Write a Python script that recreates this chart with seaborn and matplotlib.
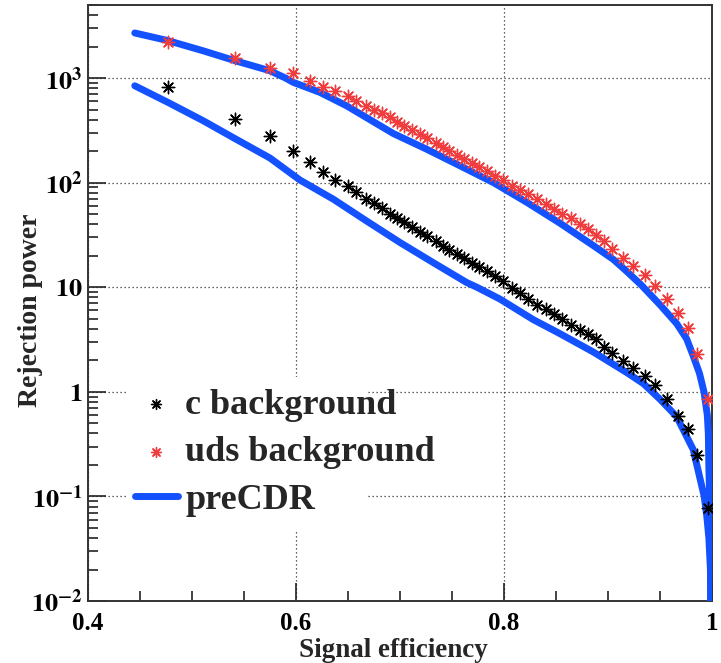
import matplotlib

matplotlib.use("Agg")
import matplotlib.pyplot as plt
import matplotlib.ticker as mticker
import numpy as np
import pandas as pd
import seaborn as sns
from matplotlib.patches import Rectangle

# signal efficiency of the marker points (shared by both backgrounds)
eff = [0.477, 0.541, 0.575, 0.597, 0.6135, 0.6256, 0.638, 0.6497, 0.658, 0.667,
       0.675, 0.6824, 0.6904, 0.6968, 0.7038, 0.7118, 0.7192, 0.7256, 0.7343, 0.741,
       0.7474, 0.7545, 0.7615, 0.7689, 0.7763, 0.7833, 0.7913, 0.7987, 0.8074, 0.8154,
       0.8234, 0.832, 0.84, 0.848, 0.856, 0.8644, 0.873, 0.8804, 0.888, 0.8964,
       0.904, 0.9147, 0.9243, 0.9356, 0.9452, 0.9564, 0.9676, 0.9766, 0.9853, 0.9958]

c_bkg = [826, 405, 277, 201, 156, 127, 106, 93, 82, 69.5,
         64, 57, 50.7, 46.1, 42, 37.4, 33.6, 30.7, 27.4, 24.9,
         22.7, 20.7, 19.1, 17.2, 15.6, 14.2, 12.8, 11.6, 9.9, 8.9,
         7.7, 6.8, 6.2, 5.5, 5.0, 4.4, 3.9, 3.6, 3.2, 2.7,
         2.35, 1.96, 1.69, 1.42, 1.16, 0.85, 0.59, 0.44, 0.25, 0.078]

uds_bkg = [2200, 1550, 1250, 1110, 930, 826, 757, 678, 607, 540,
           494, 459, 421, 382, 350, 318, 291, 265, 237, 217,
           200, 183, 168, 154, 142, 129, 116, 106, 93, 85,
           78, 69.5, 63, 56.6, 50.7, 45.7, 40.6, 35.9, 31.9, 27.5,
           23.1, 19.2, 16, 13, 10.2, 7.7, 5.7, 4.1, 2.29, 0.85]

# preCDR reference curves
pre_c_eff = [0.445, 0.477, 0.511, 0.541, 0.575, 0.5974, 0.6038, 0.6359, 0.6679, 0.7,
             0.732, 0.7641, 0.774, 0.7962, 0.8282, 0.8538, 0.886, 0.918, 0.934,
             0.95, 0.966, 0.982, 0.9925, 0.995, 0.997, 0.9985, 0.999]
pre_c = [844, 585, 390, 265, 172, 118, 106, 69.5, 43, 26.8,
         17.2, 11.1, 10, 7.7, 4.9, 3.6, 2.4, 1.53, 1.2,
         0.85, 0.58, 0.28, 0.1, 0.065, 0.04, 0.02, 0.005]

pre_uds_eff = [0.445, 0.477, 0.511, 0.541, 0.575, 0.59, 0.5974, 0.623, 0.6487, 0.6712,
               0.6936, 0.7256, 0.7577, 0.79, 0.8218, 0.8538, 0.886, 0.905, 0.918, 0.932,
               0.95, 0.966, 0.9757, 0.982, 0.988, 0.9923, 0.9955, 0.9965, 0.997, 0.9985, 0.999]
pre_uds = [2700, 2280, 1820, 1470, 1175, 1000, 910, 730, 543, 400,
           295, 209, 145, 100, 65, 41, 25, 18.5, 14.2, 10.5,
           6.8, 4.5, 3.2, 2.2, 1.5, 1.0, 0.6, 0.4, 0.19, 0.05, 0.005]

xtick_vals = [0.4, 0.6, 0.8, 1.0]
xtick_labels = ["0.4", "0.6", "0.8", "1"]
ytick_vals = [1e-2, 1e-1, 1, 10, 1e2, 1e3]
ytick_labels = [r"$\mathbf{10^{-2}}$", r"$\mathbf{10^{-1}}$", r"$\mathbf{1}$",
                r"$\mathbf{10}$", r"$\mathbf{10^{2}}$", r"$\mathbf{10^{3}}$"]

sns.set_style("ticks")
plt.rcParams["font.family"] = ["Liberation Serif", "DejaVu Serif"]
plt.rcParams["font.weight"] = "bold"
plt.rcParams["mathtext.fontset"] = "stix"

blue = "#1452ff"
red = "#f03c3c"

fig = plt.figure(figsize=(7.21, 6.63), dpi=100)
ax = fig.add_axes([0.122, 0.0935, 0.8655, 0.899])
ax.set_yscale("log")

pts = pd.DataFrame({"eff": eff, "c": c_bkg, "uds": uds_bkg})
pre_c_df = pd.DataFrame({"eff": pre_c_eff, "rej": pre_c})
pre_uds_df = pd.DataFrame({"eff": pre_uds_eff, "rej": pre_uds})

sns.lineplot(data=pre_c_df, x="eff", y="rej", sort=False, estimator=None,
             color=blue, linewidth=5, label="preCDR", ax=ax, zorder=3)
sns.lineplot(data=pre_uds_df, x="eff", y="rej", sort=False, estimator=None,
             color=blue, linewidth=5, label="_nolegend_", ax=ax, zorder=3)

star = (8, 2, 0)
sns.scatterplot(data=pts, x="eff", y="c", marker=star, s=80, color="black",
                linewidth=1.0, label="c background", ax=ax, zorder=5)
sns.scatterplot(data=pts, x="eff", y="uds", marker=star, s=80, color=red,
                linewidth=1.0, label="uds background", ax=ax, zorder=5)

ax.set_xlim(0.4, 1.0)
ax.set_ylim(1e-2, 5e3)

ax.set_xticks(xtick_vals, xtick_labels)
ax.set_yticks(ytick_vals, ytick_labels)
ax.xaxis.set_minor_locator(mticker.MultipleLocator(0.05))
ax.yaxis.set_minor_locator(mticker.LogLocator(base=10, subs=np.arange(2, 10), numticks=20))
ax.yaxis.set_minor_formatter(mticker.NullFormatter())

ax.tick_params(which="both", direction="in", top=False, right=False, width=1.2,
               colors="#222222", labelcolor="black")
ax.tick_params(which="major", length=13)
ax.tick_params(which="minor", length=7)
ax.tick_params(axis="x", which="major", labelsize=18, pad=8)
ax.tick_params(axis="y", which="major", labelsize=19, pad=4)

ax.grid(True, which="major", color="#333333", linestyle=(0, (1, 2.2)), linewidth=0.9)
for side in ["left", "bottom", "top", "right"]:
    ax.spines[side].set_linewidth(1.4)
    ax.spines[side].set_color("#333333")

# white box under the legend hides the grid, like the original
ax.add_patch(Rectangle((0.0625, 0.119), 0.386, 0.257, transform=ax.transAxes,
                       facecolor="white", edgecolor="none", zorder=2))

ax.set_xlabel("Signal efficiency", fontsize=19.5, fontweight="bold")
ax.set_ylabel("Rejection power", fontsize=20, fontweight="bold")
ax.xaxis.set_label_coords(0.489, -0.062)
ax.yaxis.set_label_coords(-0.072, 0.487)

handles, labels = ax.get_legend_handles_labels()
hmap = dict(zip(labels, handles))
order = ["c background", "uds background", "preCDR"]
ax.legend([hmap[k] for k in order], order, loc="upper left",
          bbox_to_anchor=(0.075, 0.357), frameon=False,
          prop={"weight": "bold", "size": 26}, handlelength=1.2,
          handletextpad=0.2, borderpad=0, borderaxespad=0, labelspacing=0.4,
          markerscale=0.8)

fig.savefig("out.png", dpi=100)
